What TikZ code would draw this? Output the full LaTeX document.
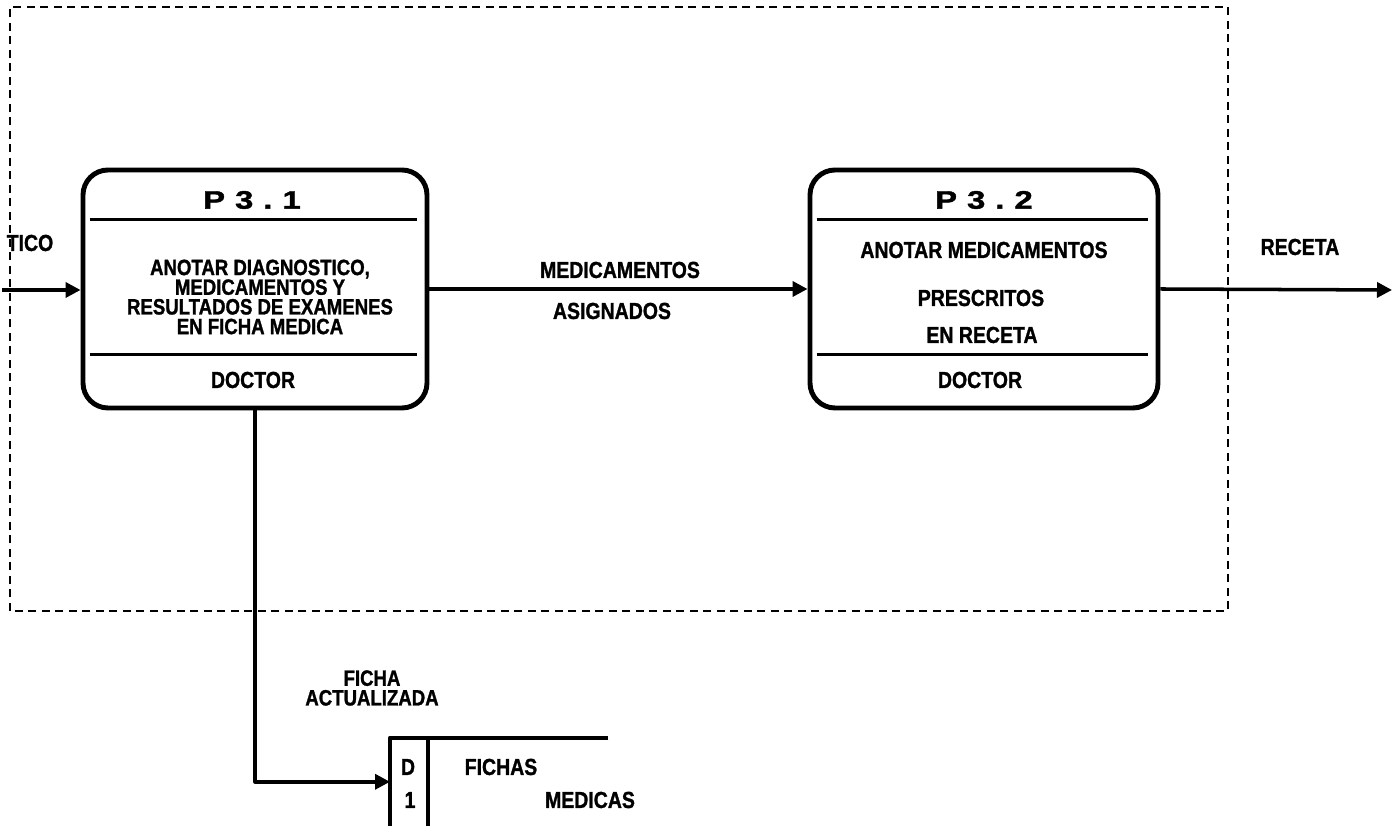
\documentclass[tikz,border=0pt]{standalone}
\usepackage{fontspec}
\setmainfont{Liberation Sans}
\newfontfamily\dfdfont[FakeStretch=0.84,FakeBold=1.2]{Liberation Sans}
\newfontfamily\dfdwide[FakeStretch=1.3,FakeBold=1.5]{Liberation Sans}
\newcommand{\dfdtight}{\lineskiplimit=-10pt\relax}
\usepackage{tikz}
\usetikzlibrary{arrows.meta,positioning}
\tikzset{
  dfd diagram/.style={font=\dfdfont\bfseries\fontsize{6.6}{6.6}\selectfont,
    line join=round},
  dfd process/.style={draw, line width=1.4pt, rounded corners=0.25cm,
    minimum width=3.44cm, minimum height=2.38cm, inner sep=0pt},
  dfd rule/.style={line width=1.1pt},
  dfd flow/.style={-{Triangle[length=1.5mm,width=1.5mm]}, line width=1pt},
  dfd bound/.style={line width=0.8pt, dash pattern=on 0.08cm off 0.055cm},
  dfd label/.style={inner sep=0pt},
  dfd title/.style={dfd label, font=\dfdwide\bfseries\fontsize{7.2}{7.2}\selectfont},
  dfd body/.style={dfd label, align=center,
    font=\dfdfont\bfseries\fontsize{6.3}{5.6}\selectfont\dfdtight}
}
\begin{document}
\begin{tikzpicture}[dfd diagram]
\useasboundingbox (0,0) rectangle (13.96,8.26);
% system boundary
\draw[dfd bound] (0.10,2.15) rectangle (12.28,8.19);
% processes
\node[dfd process] (p31) at (2.55,5.37) {};
\node[dfd process, minimum width=3.48cm] (p32) at (9.84,5.37) {};
\draw[dfd rule] ([xshift=0.09cm,yshift=-0.52cm]p31.north west) -- ([xshift=-0.12cm,yshift=-0.52cm]p31.north east);
\draw[dfd rule] ([xshift=0.09cm,yshift=0.56cm]p31.south west) -- ([xshift=-0.12cm,yshift=0.56cm]p31.south east);
\draw[dfd rule] ([xshift=0.09cm,yshift=-0.52cm]p32.north west) -- ([xshift=-0.12cm,yshift=-0.52cm]p32.north east);
\draw[dfd rule] ([xshift=0.09cm,yshift=0.56cm]p32.south west) -- ([xshift=-0.12cm,yshift=0.56cm]p32.south east);
\node[dfd title] (p31 id) at (2.52,6.26) {P\hspace{0.1cm}3\hspace{0.1cm}.\hspace{0.1cm}1};
\node[dfd body] (p31 text) at (2.60,5.29) {ANOTAR DIAGNOSTICO,\\MEDICAMENTOS Y\\RESULTADOS DE EXAMENES\\EN FICHA MEDICA};
\node[dfd label] (p31 who) at (2.53,4.46) {DOCTOR};
\node[dfd title] (p32 id) at (9.84,6.26) {P\hspace{0.1cm}3\hspace{0.1cm}.\hspace{0.1cm}2};
\node[dfd label] (p32 text a) at (9.84,5.76) {ANOTAR MEDICAMENTOS};
\node[dfd label] (p32 text b) at (9.81,5.28) {PRESCRITOS};
\node[dfd label] (p32 text c) at (9.82,4.91) {EN RECETA};
\node[dfd label] (p32 who) at (9.80,4.46) {DOCTOR};
% data store
\node[minimum width=2.17cm, minimum height=0.87cm, inner sep=0pt, anchor=south west] (d1) at (3.90,0) {};
\draw[dfd rule] (d1.north east) -- (d1.north west) -- (d1.south west);
\draw[dfd rule] ([xshift=0.38cm]d1.north west) -- ([xshift=0.38cm]d1.south west);
\node[dfd label] (d1 id a) at (4.08,0.59) {D};
\node[dfd label] (d1 id b) at (4.10,0.26) {1};
\node[dfd label] (d1 name a) at (5.01,0.59) {FICHAS};
\node[dfd label] (d1 name b) at (5.90,0.26) {MEDICAS};
% flows
\coordinate (src) at (0.02,5.36);
\coordinate (sink) at (13.92,5.36);
\draw[dfd flow] (src) -- (src -| p31.west);
\draw[dfd flow] (p31.east) -- (p32.west);
\draw[dfd flow] (p32.east) -- (sink);
\draw[dfd flow] (p31.south) |- (d1.west);
\node[dfd label] (f in) at (0.30,5.83) {TICO};
\node[dfd label] (f mid a) at (6.20,5.56) {MEDICAMENTOS};
\node[dfd label] (f mid b) at (6.12,5.15) {ASIGNADOS};
\node[dfd label] (f out) at (13.00,5.79) {RECETA};
\node[dfd body] (f down) at (3.72,1.38) {FICHA\\ACTUALIZADA};
\end{tikzpicture}
\end{document}
